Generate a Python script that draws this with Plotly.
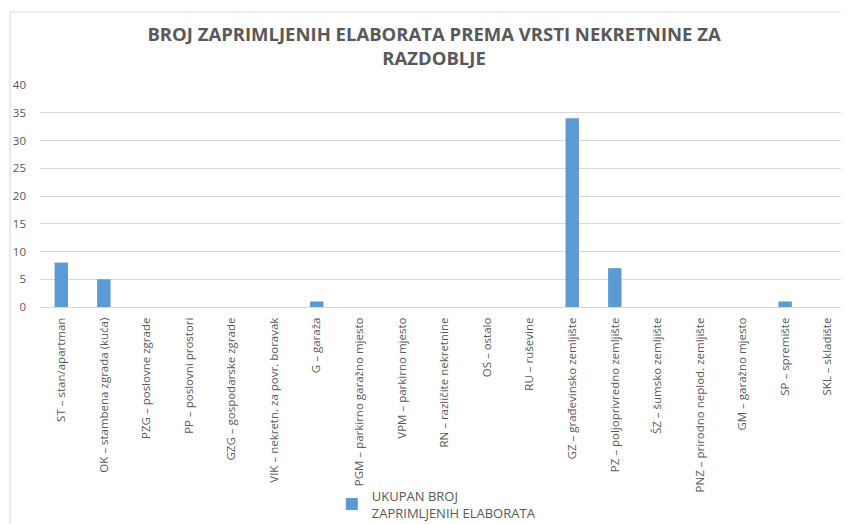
import plotly.graph_objects as go

# Podaci
kategorije = [
    "ST – stan/apartman",
    "OK – stambena zgrada (kuća)",
    "PZG – poslovne zgrade",
    "PP – poslovni prostori",
    "GZG – gospodarske zgrade",
    "VIK – nekretn. za povr. boravak",
    "G – garaža",
    "PGM – parkirno garažno mjesto",
    "VPM – parkirno mjesto",
    "RN – različite nekretnine",
    "OS – ostalo",
    "RU – ruševine",
    "GZ – građevinsko zemljište",
    "PZ – poljoprivredno zemljište",
    "ŠZ – šumsko zemljište",
    "PNZ – prirodno neplod. zemljište",
    "GM – garažno mjesto",
    "SP – spremište",
    "SKL – skladište",
]
broj_elaborata = [8, 5, 0, 0, 0, 0, 1, 0, 0, 0, 0, 0, 34, 7, 0, 0, 0, 1, 0]
y_tickovi = [0, 5, 10, 15, 20, 25, 30, 35, 40]

siva = "#595959"

fig = go.Figure()
fig.add_trace(go.Bar(
    x=kategorije, y=broj_elaborata,
    name="UKUPAN BROJ<br>ZAPRIMLJENIH ELABORATA",
    marker=dict(color="#5B9BD5", line=dict(width=0)),
))

# stranica ima 8px margine, pa je figura za toliko manja
fig.update_layout(
    width=841, height=516,
    paper_bgcolor="white", plot_bgcolor="white",
    font=dict(family="Open Sans, sans-serif", color=siva, size=10),
    title=dict(
        text="<b>BROJ ZAPRIMLJENIH ELABORATA PREMA VRSTI NEKRETNINE ZA<br>RAZDOBLJE</b>",
        x=0.5066, xanchor="center", y=0.936, yanchor="middle",
        font=dict(size=18.5, color=siva, family="Open Sans, sans-serif"),
    ),
    margin=dict(l=32, r=0, t=77, b=217),
    bargap=0.685,
    showlegend=True,
    legend=dict(
        orientation="h", xref="container", yref="container",
        x=0.385, xanchor="left", y=0.084, yanchor="top",
        font=dict(size=13, color=siva), itemwidth=30,
        bgcolor="rgba(0,0,0,0)",
    ),
    xaxis=dict(
        tickangle=-90, tickfont=dict(size=11.5, color=siva),
        showline=True, linecolor="#D9D9D9", linewidth=1,
        ticks="", showgrid=False, automargin=False,
        ticklabelstandoff=5,
    ),
    yaxis=dict(
        range=[0, 40], tickvals=y_tickovi,
        tickfont=dict(size=11.5, color=siva),
        showgrid=True, gridcolor="#D9D9D9", gridwidth=1,
        zeroline=False, showline=False, ticks="",
        ticklabelstandoff=13, automargin=False,
    ),
    shapes=[dict(
        type="rect", xref="paper", yref="paper",
        x0=-0.037, x1=1.2, y0=-1.5, y1=1.329,
        line=dict(color="#D9D9D9", width=1), layer="below",
    )],
)

fig.write_html("out.html")
